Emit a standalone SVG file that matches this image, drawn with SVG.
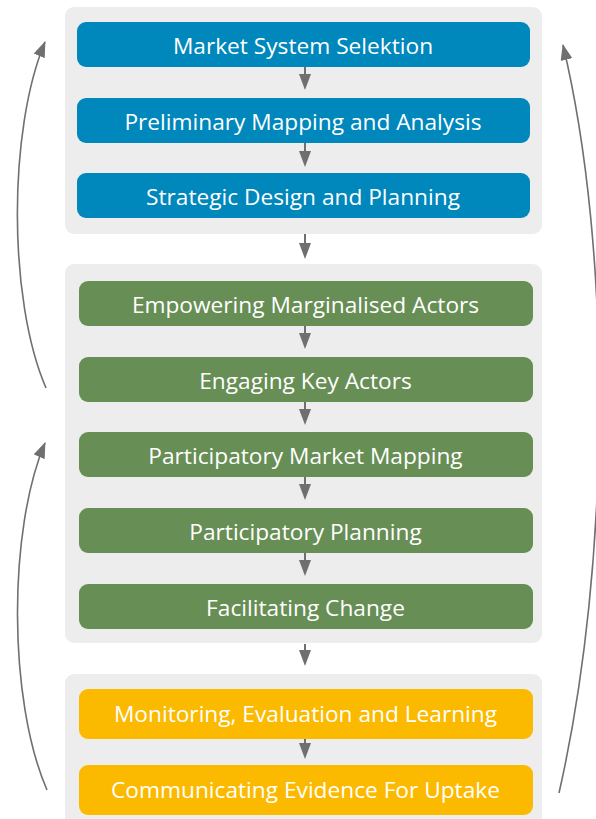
<svg xmlns="http://www.w3.org/2000/svg" width="596" height="819" viewBox="0 0 596 819">
<defs>
<style>
.panel{fill:#ededed}
.blue{fill:#0087bb}
.green{fill:#678e55}
.yellow{fill:#fbba00}
.lbl{font-family:"Open Sans","Noto Sans","DejaVu Sans",sans-serif;font-size:22.7px;fill:#ffffff;text-anchor:middle}
.stem{stroke:#6f6f6f;stroke-width:2;fill:none}
.head{fill:#6f6f6f}
.loop{stroke:#707070;stroke-width:1.6;fill:none;marker-end:url(#ah)}
</style>
<marker id="ah" viewBox="0 0 16 12" refX="15" refY="6" markerWidth="16" markerHeight="12" markerUnits="userSpaceOnUse" orient="auto">
<path d="M0,0 L16,6 L0,12 Z" fill="#707070"/>
</marker>
</defs>
<rect class="panel" x="65" y="7" width="477" height="227" rx="9"/>
<rect class="panel" x="65" y="264" width="477" height="379" rx="9"/>
<rect class="panel" x="65" y="674" width="477" height="160" rx="9"/>
<g id="n1"><rect class="blue" x="77" y="22" width="453" height="45" rx="9"/><text class="lbl" x="303" y="54">Market System Selektion</text></g>
<g id="n2"><rect class="blue" x="77" y="98" width="453" height="45" rx="9"/><text class="lbl" x="303" y="130">Preliminary Mapping and Analysis</text></g>
<g id="n3"><rect class="blue" x="77" y="173" width="453" height="45" rx="9"/><text class="lbl" x="303" y="205">Strategic Design and Planning</text></g>
<g id="n4"><rect class="green" x="79" y="281" width="454" height="45" rx="9"/><text class="lbl" x="305.5" y="313">Empowering Marginalised Actors</text></g>
<g id="n5"><rect class="green" x="79" y="357" width="454" height="45" rx="9"/><text class="lbl" x="305.5" y="389">Engaging Key Actors</text></g>
<g id="n6"><rect class="green" x="79" y="432" width="454" height="45" rx="9"/><text class="lbl" x="305.5" y="464">Participatory Market Mapping</text></g>
<g id="n7"><rect class="green" x="79" y="508" width="454" height="45" rx="9"/><text class="lbl" x="305.5" y="540">Participatory Planning</text></g>
<g id="n8"><rect class="green" x="79" y="584" width="454" height="45" rx="9"/><text class="lbl" x="305.5" y="616">Facilitating Change</text></g>
<g id="n9"><rect class="yellow" x="79" y="689" width="454" height="50" rx="9"/><text class="lbl" x="305.5" y="722">Monitoring, Evaluation and Learning</text></g>
<g id="n10"><rect class="yellow" x="79" y="765" width="454" height="50" rx="9"/><text class="lbl" x="305.5" y="798">Communicating Evidence For Uptake</text></g>
<g id="connectors">
<path class="stem" d="M305,67 V75"/><path class="head" d="M299,74 L311,74 L305,90 Z"/>
<path class="stem" d="M305,143 V152"/><path class="head" d="M299,151 L311,151 L305,167 Z"/>
<path class="stem" d="M305,234 V244"/><path class="head" d="M299,243 L311,243 L305,259 Z"/>
<path class="stem" d="M305,326 V334"/><path class="head" d="M299,333 L311,333 L305,349 Z"/>
<path class="stem" d="M305,402 V410"/><path class="head" d="M299,409 L311,409 L305,425 Z"/>
<path class="stem" d="M305,477 V485"/><path class="head" d="M299,484 L311,484 L305,500 Z"/>
<path class="stem" d="M305,553 V561"/><path class="head" d="M299,560 L311,560 L305,576 Z"/>
<path class="stem" d="M305,644 V651"/><path class="head" d="M299,650 L311,650 L305,666 Z"/>
<path class="stem" d="M305,739 V744"/><path class="head" d="M299,743 L311,743 L305,759 Z"/>
<path class="loop" d="M46,388 C8,300 8,130 45,42"/>
<path class="loop" d="M47,790 C8,700 8,530 45,443"/>
<path class="loop" d="M559,793 C612,560 612,250 563,45"/>
</g>
</svg>
